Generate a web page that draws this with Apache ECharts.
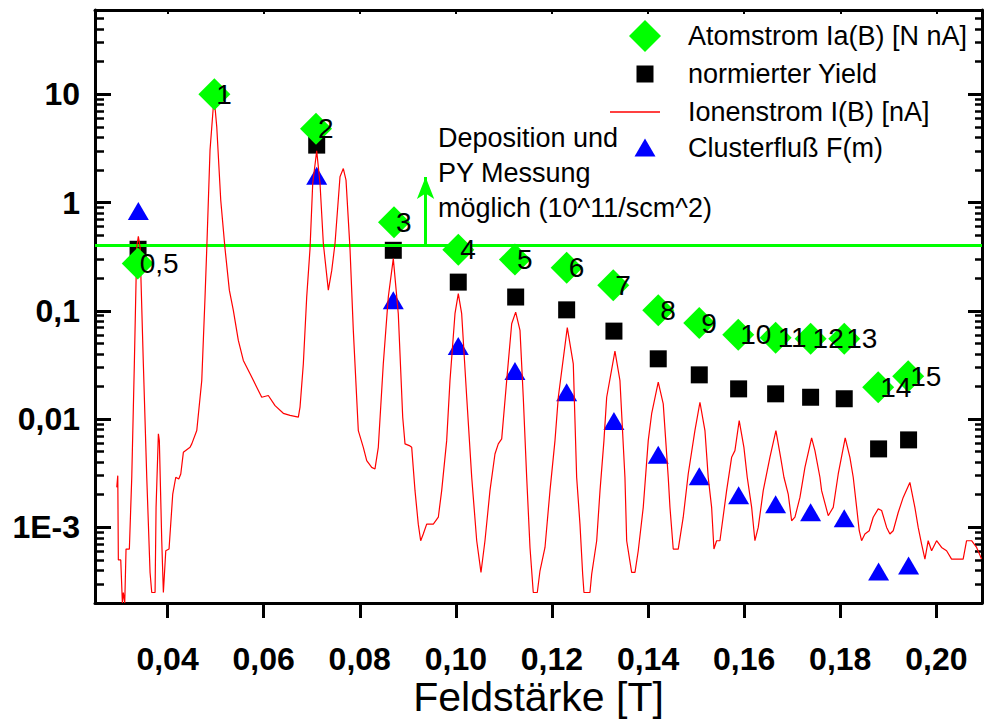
<!DOCTYPE html>
<html>
<head>
<meta charset="utf-8">
<script src="https://cdn.jsdelivr.net/npm/echarts@6/dist/echarts.min.js"></script>
<style>html,body{margin:0;padding:0;background:#fff}#c{width:984px;height:724px}</style>
</head>
<body>
<div id="c"></div>
<script>
// ---- axis ticks ----
const xTickValues = [0.04, 0.06, 0.08, 0.10, 0.12, 0.14, 0.16, 0.18, 0.20];
const xTickLabels = ['0,04', '0,06', '0,08', '0,10', '0,12', '0,14', '0,16', '0,18', '0,20'];
const yTickValues = [0.001, 0.01, 0.1, 1, 10];
const yTickLabels = ['1E-3', '0,01', '0,1', '1', '10'];

// ---- Atomstrom Ia(B) [N nA] (green diamonds) ----
const atomB = [0.0338, 0.04974, 0.07090, 0.08713, 0.10051, 0.11230, 0.12306, 0.13276, 0.14212, 0.15066, 0.15877, 0.16655, 0.17383, 0.18083, 0.18790, 0.19414];
const atomI = [0.274, 10.0, 4.80, 0.657, 0.367, 0.297, 0.250, 0.172, 0.1009, 0.0770, 0.0601, 0.0564, 0.0552, 0.0552, 0.0197, 0.0249];
const atomLabels = ['0,5', '1', '2', '3', '4', '5', '6', '7', '8', '9', '10', '11', '12', '13', '14', '15'];

// ---- normierter Yield (black squares) ----
const yieldB = [0.03386, 0.07104, 0.08698, 0.1005, 0.11245, 0.12306, 0.1329, 0.14212, 0.15066, 0.15885, 0.16655, 0.17383, 0.18083, 0.18798, 0.19422];
const yieldV = [0.370, 3.39, 0.362, 0.184, 0.134, 0.102, 0.0649, 0.0360, 0.0256, 0.0190, 0.0171, 0.0159, 0.0154, 0.00530, 0.00642];

// ---- Clusterfluss F(m) (blue triangles) ----
const fluxB = [0.03392, 0.07104, 0.08698, 0.1005, 0.1123, 0.12306, 0.1329, 0.14212, 0.15066, 0.15885, 0.16655, 0.17383, 0.18083, 0.18798, 0.19422];
const fluxF = [0.834, 1.77, 0.125, 0.0473, 0.0278, 0.0177, 0.00962, 0.00468, 0.00297, 0.00198, 0.00163, 0.00138, 0.00121, 0.000391, 0.000444];

// ---- Ionenstrom I(B) [nA] (red line) ----
const ionB = [0.02943,0.02964,0.02976,0.03026,0.03060,0.03080,0.03109,0.03136,0.03205,0.03255,
0.03309,0.03359,0.03392,0.03428,0.03496,0.03567,0.03636,0.03671,0.03740,0.03761,
0.03809,0.03829,0.03879,0.03913,0.03963,0.04031,0.04108,0.04171,0.04233,0.04275,
0.04329,0.04468,0.04504,0.04608,0.04712,0.04780,0.04816,0.04884,0.04968,0.05024,
0.05107,0.05196,0.05286,0.05369,0.05473,0.05577,0.05717,0.05856,0.05960,0.06097,
0.06237,0.06409,0.06549,0.06722,0.06757,0.06826,0.06896,0.06965,0.07021,0.07104,
0.07173,0.07242,0.07346,0.07417,0.07485,0.07589,0.07658,0.07714,0.07797,0.07866,
0.07970,0.08074,0.08145,0.08249,0.08317,0.08386,0.08490,0.08594,0.08698,0.08802,
0.08894,0.08942,0.09031,0.09081,0.09150,0.09218,0.09268,0.09322,0.09393,0.09531,
0.09635,0.09705,0.09809,0.09878,0.09982,0.10051,0.10121,0.10226,0.10330,0.10434,
0.10523,0.10606,0.10710,0.10814,0.10883,0.10954,0.11058,0.11162,0.11245,0.11335,
0.11403,0.11474,0.11543,0.11611,0.11695,0.11751,0.11855,0.11959,0.12063,0.12132,
0.12319,0.12444,0.12514,0.12583,0.12639,0.12666,0.12791,0.12827,0.12931,0.13000,
0.13082,0.13139,0.13311,0.13415,0.13519,0.13555,0.13659,0.13728,0.13796,0.13900,
0.14004,0.14075,0.14212,0.14316,0.14420,0.14456,0.14524,0.14628,0.14732,0.14836,
0.14975,0.15080,0.15184,0.15252,0.15323,0.15371,0.15427,0.15496,0.15635,0.15739,
0.15808,0.15897,0.15995,0.16064,0.16156,0.16224,0.16293,0.16397,0.16536,0.16661,
0.16759,0.16828,0.16917,0.16988,0.17057,0.17161,0.17265,0.17404,0.17473,0.17577,
0.17612,0.17750,0.17854,0.17958,0.18103,0.18201,0.18270,0.18341,0.18395,0.18444,
0.18513,0.18603,0.18686,0.18790,0.18861,0.18965,0.19033,0.19102,0.19206,0.19310,
0.19449,0.19553,0.19622,0.19693,0.19762,0.19830,0.19901,0.20005,0.20109,0.20213,
0.20317,0.20558,0.20629,0.20733,0.20838,0.20942];
const ionI = [0.00234,0.0030,0.00050,0.00050,0.00020,0.00025,0.00020,0.00063,0.00063,0.0029,
0.0326,0.388,0.488,0.388,0.0326,0.0029,0.000383,0.00025,0.00025,0.00153,
0.0073,0.00632,0.000752,0.00025,0.000608,0.00063,0.00203,0.0029,0.0028,0.00311,
0.00493,0.00548,0.0059,0.00783,0.0227,0.134,0.375,3.05,9.48,5.0,
1.05,0.375,0.155,0.101,0.0532,0.0348,0.0262,0.0197,0.0159,0.0165,
0.0133,0.0113,0.0108,0.0104,0.0129,0.0324,0.134,0.375,1.50,3.0,
1.50,0.418,0.155,0.236,0.418,1.73,2.06,1.61,0.375,0.0659,
0.00783,0.00548,0.00413,0.00358,0.00346,0.00548,0.0324,0.134,0.303,0.094,
0.0104,0.0059,0.00569,0.00548,0.00218,0.00107,0.000752,0.000867,0.00107,0.00107,
0.00124,0.00218,0.00632,0.0227,0.094,0.144,0.094,0.0159,0.0029,0.000752,
0.000383,0.000752,0.00218,0.00476,0.0059,0.00656,0.0227,0.076,0.0973,0.0659,
0.0159,0.0029,0.000652,0.00025,0.00025,0.000397,0.000652,0.00218,0.00632,0.0159,
0.0698,0.0324,0.0029,0.00107,0.00037,0.00025,0.00025,0.00037,0.000752,0.00218,
0.00632,0.0159,0.0424,0.0227,0.0029,0.000752,0.000383,0.000383,0.000608,0.00153,
0.00632,0.0112,0.0219,0.0138,0.0029,0.00153,0.00063,0.00063,0.00124,0.00311,
0.00783,0.0143,0.00783,0.0029,0.00153,0.00063,0.000752,0.000752,0.00218,0.00443,
0.00511,0.00969,0.00548,0.0029,0.00153,0.000752,0.000998,0.00218,0.00443,0.00783,
0.00443,0.0029,0.00203,0.00115,0.00124,0.00189,0.00358,0.0067,0.00511,0.0029,
0.00218,0.00128,0.00153,0.00311,0.0067,0.00443,0.0029,0.00153,0.00093,0.000752,
0.000867,0.00093,0.00124,0.00148,0.00143,0.000998,0.000867,0.00093,0.00137,0.00189,
0.0026,0.00153,0.000998,0.000701,0.000509,0.000752,0.000608,0.000752,0.000652,0.000608,
0.000509,0.000509,0.000752,0.000752,0.000652,0.000509];

// ---- threshold line and arrow ----
const thresholdValue = 0.4;
const arrowB = 0.0937;
const arrowTop = 1.72;
const noteLines = ['Deposition und', 'PY Messung', 'möglich (10^11/scm^2)'];

const names = {
  atom: 'Atomstrom Ia(B) [N nA]',
  yield: 'normierter Yield',
  ion: 'Ionenstrom I(B) [nA]',
  flux: 'Clusterfluß F(m)'
};

const xMin = 0.0249, xMax = 0.2095, yMin = 2e-4, yMax = 60;
const yMinor = [];
for (let e = -4; e <= 1; e++) for (let m = 2; m <= 9; m++) {
  const v = m * Math.pow(10, e);
  if (v >= yMin && v <= yMax) yMinor.push(v);
}
const zip = (a, b) => a.map((v, i) => [v, b[i]]);
const GREEN = '#00ff00';
const sans = "'Liberation Sans', Arial, sans-serif";

function xFmt(v) {
  let best = 0;
  xTickValues.forEach((t, i) => { if (Math.abs(t - v) < Math.abs(xTickValues[best] - v)) best = i; });
  return xTickLabels[best];
}
function yFmt(v) {
  const k = Math.round(Math.log10(v));
  const i = yTickValues.findIndex(t => Math.round(Math.log10(t)) === k);
  return i >= 0 ? yTickLabels[i] : '';
}

const chart = echarts.init(document.getElementById('c'), null, { renderer: 'svg' });
const axisLine = { show: true, onZero: false, lineStyle: { color: '#000', width: 3 } };

function legendFor(name, left, top, w, h, padLeft, extra) {
  return Object.assign({
    data: [name], left: left, top: top, itemWidth: w, itemHeight: h,
    orient: 'vertical', padding: 0, selectedMode: false, itemGap: 0,
    textStyle: { fontFamily: sans, fontSize: 27, color: '#000', padding: [0, 0, 0, padLeft] }
  }, extra || {});
}

chart.setOption({
  animation: false,
  backgroundColor: '#fff',
  grid: { left: 95, right: 2, top: 10, bottom: 121, containLabel: false, outerBoundsMode: 'none' },
  xAxis: [{
    type: 'value', min: xMin, max: xMax, position: 'bottom',
    axisLine: axisLine, splitLine: { show: false },
    axisTick: { show: true, inside: false, length: 15, lineStyle: { color: '#000', width: 3 }, customValues: xTickValues },
    axisLabel: { show: true, customValues: xTickValues, formatter: xFmt, margin: 40, color: '#000',
      fontFamily: sans, fontWeight: 'bold', fontSize: 32 },
    name: 'Feldstärke [T]', nameLocation: 'middle', nameGap: 73, nameMoveOverlap: false,
    nameTextStyle: { fontFamily: sans, fontSize: 41, color: '#000' }
  }, {
    type: 'value', min: xMin, max: xMax, position: 'top',
    axisLine: axisLine, splitLine: { show: false },
    axisTick: { show: true, inside: true, length: 4, lineStyle: { color: '#000', width: 2 }, customValues: xTickValues },
    axisLabel: { show: false }
  }],
  yAxis: [{
    type: 'log', logBase: 10, min: yMin, max: yMax, position: 'left',
    axisLine: axisLine, splitLine: { show: false }, minorTick: { show: false },
    axisTick: { show: true, inside: true, length: 16, lineStyle: { color: '#000', width: 3 }, customValues: yTickValues },
    axisLabel: { show: true, customValues: yTickValues, formatter: yFmt, margin: 15, color: '#000',
      fontFamily: sans, fontWeight: 'bold', fontSize: 32 }
  }, {
    type: 'log', logBase: 10, min: yMin, max: yMax, position: 'left',
    axisLine: { show: false }, splitLine: { show: false },
    axisTick: { show: true, inside: true, length: 9, lineStyle: { color: '#000', width: 2.5 }, customValues: yMinor },
    axisLabel: { show: false }
  }, {
    type: 'log', logBase: 10, min: yMin, max: yMax, position: 'right',
    axisLine: axisLine, splitLine: { show: false },
    axisTick: { show: true, inside: true, length: 14, lineStyle: { color: '#000', width: 3 }, customValues: yTickValues },
    axisLabel: { show: false }
  }, {
    type: 'log', logBase: 10, min: yMin, max: yMax, position: 'right',
    axisLine: { show: false }, splitLine: { show: false },
    axisTick: { show: true, inside: true, length: 7, lineStyle: { color: '#000', width: 2.5 }, customValues: yMinor },
    axisLabel: { show: false }
  }],
  legend: [
    legendFor(names.atom, 629, 20, 32, 32, 22),
    legendFor(names.yield, 636.5, 60.5, 17, 17, 29.5),
    legendFor(names.ion, 610, 98.5, 50, 1.5, 23, { icon: 'rect' }),
    legendFor(names.flux, 634.5, 134, 21, 18, 27.5)
  ],
  graphic: [{
    type: 'text', left: 438, top: 120, z: 100,
    style: { text: noteLines.join('\n'), font: '27px ' + sans, fill: '#000', lineHeight: 35 }
  }],
  series: [{
    name: names.yield, type: 'scatter', z: 2,
    symbol: 'rect', symbolSize: 17,
    itemStyle: { color: '#000', opacity: 1 },
    data: zip(yieldB, yieldV)
  }, {
    name: names.flux, type: 'scatter', z: 3,
    symbol: 'triangle', symbolSize: [21, 18],
    itemStyle: { color: '#0000ff', opacity: 1 },
    data: zip(fluxB, fluxF)
  }, {
    name: 'threshold', type: 'line', z: 4, data: [], silent: true,
    markLine: {
      silent: true, animation: false,
      symbol: ['none', 'none'],
      label: { show: false },
      lineStyle: { color: GREEN, width: 3, type: 'solid', opacity: 1 },
      emphasis: { disabled: true },
      data: [
        { yAxis: thresholdValue },
        [
          { coord: [arrowB, thresholdValue], symbol: 'none' },
          { coord: [arrowB, arrowTop], symbol: 'arrow', symbolSize: [13, 22] }
        ]
      ]
    }
  }, {
    name: names.ion, type: 'line', z: 5,
    showSymbol: false, symbol: 'none',
    lineStyle: { color: '#ff0000', width: 1.2 },
    itemStyle: { color: '#ff0000' },
    data: zip(ionB, ionI)
  }, {
    name: names.atom, type: 'scatter', z: 6,
    symbol: 'diamond', symbolSize: 32,
    itemStyle: { color: GREEN, opacity: 1 },
    label: {
      show: true, position: 'right', distance: -14,
      formatter: p => atomLabels[p.dataIndex],
      fontFamily: sans, fontSize: 28, color: '#000'
    },
    data: zip(atomB, atomI)
  }]
});
</script>
</body>
</html>
